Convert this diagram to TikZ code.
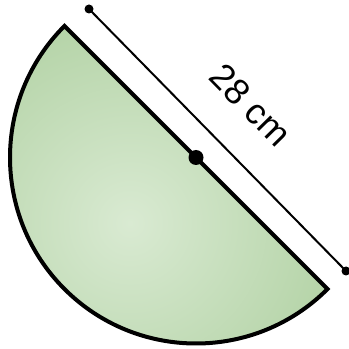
\documentclass[tikz,border=0pt]{standalone}
\usepackage{fontspec}
\setmainfont{Liberation Sans}
\usetikzlibrary{calc}
\definecolor{gA}{RGB}{217,234,210}
\definecolor{gB}{RGB}{170,205,155}
\definecolor{gC}{RGB}{150,190,130}
\definecolor{gD}{RGB}{132,178,112}
\pgfdeclareradialshading{semishade}{\pgfpointorigin}{color(0bp)=(gA); color(31bp)=(gB); color(40bp)=(gC); color(50bp)=(gD)}
\tikzset{
  shape outline/.style={line width=4pt, draw=black, line join=miter},
  dimline/.style={line width=2pt, draw=black},
  enddot/.style={fill=black},
  dimlabel/.style={inner sep=0pt, font=\fontsize{36}{42}\selectfont, rotate=-45.5}
}
\begin{document}
\begin{tikzpicture}[x=1pt,y=1pt]
\useasboundingbox (0,0) rectangle (349,349);
\coordinate (C) at (196,191.5);
\coordinate (A) at ($(C)+(135:186)$);
\coordinate (B) at ($(C)+(-45:186)$);
\coordinate (G) at (130,126);
\coordinate (D1) at (89,340);
\coordinate (D2) at (346,78);
\begin{scope}
  \clip (A) arc[start angle=135, end angle=315, radius=186] -- cycle;
  \shade[shading=semishade] (G) circle[radius=220];
\end{scope}
\path[shape outline] (A) arc[start angle=135, end angle=315, radius=186] -- cycle;
\draw[dimline] (D1) -- (D2);
\fill[enddot] (D1) circle[radius=4.5];
\fill[enddot] (D2) circle[radius=4.5];
\fill[enddot] (C) circle[radius=7.5];
\node[dimlabel] (L) at (251,244) {28 cm};
\end{tikzpicture}
\end{document}
